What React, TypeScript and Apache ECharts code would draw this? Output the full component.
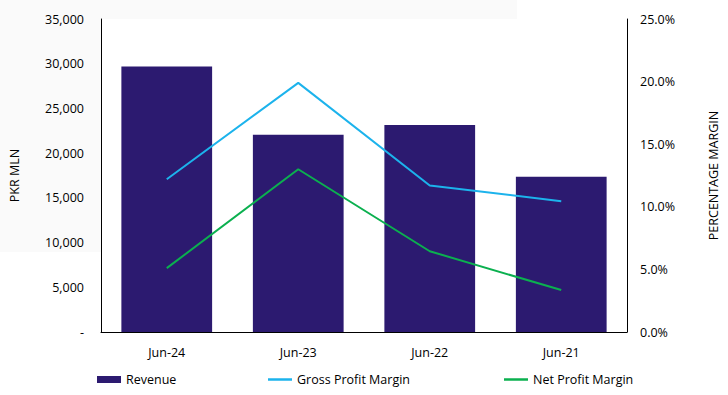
import React, { useEffect, useRef } from "react";
import * as echarts from "echarts";

const categories = ["Jun-24", "Jun-23", "Jun-22", "Jun-21"];
const revenue = [29700, 22050, 23150, 17350];
const grossMargin = [12.2, 19.9, 11.7, 10.45];
const netMargin = [5.1, 13.0, 6.45, 3.35];

const FONT = "'Open Sans', sans-serif";
const FS = 12.5;

export default function App() {
  const ref = useRef<HTMLDivElement>(null);
  useEffect(() => {
    if (!ref.current) return;
    const chart = echarts.init(ref.current, undefined, { renderer: "svg" });
    const legendText = { color: "#000", fontSize: FS, fontFamily: FONT };
    chart.setOption({
      animation: false,
      backgroundColor: "#fff",
      textStyle: { fontFamily: FONT },
      graphic: [
        { type: "rect", left: 0, top: 0, z: -10, shape: { width: 517, height: 252 }, style: { fill: "#fafafa" } },
      ],
      grid: { left: 95, right: 96, top: 19, bottom: 63, show: true, backgroundColor: "#fff", borderWidth: 0 },
      legend: [
        { data: ["Revenue"], left: 97, top: 373, itemWidth: 24, itemHeight: 7, icon: "rect", textStyle: legendText, padding: 0 },
        { data: ["Gross Profit Margin"], left: 268, top: 373, itemWidth: 24, itemHeight: 2.5, icon: "rect", textStyle: legendText, padding: 0 },
        { data: ["Net Profit Margin"], left: 504, top: 373, itemWidth: 24, itemHeight: 2.5, icon: "rect", textStyle: legendText, padding: 0 },
      ],
      xAxis: {
        type: "category",
        data: categories,
        axisLine: { lineStyle: { color: "#000", width: 1 } },
        axisTick: { show: false },
        axisLabel: { color: "#000", fontSize: FS, margin: 14, fontFamily: FONT },
      },
      yAxis: [
        {
          type: "value",
          min: 0,
          max: 35000,
          interval: 5000,
          name: "PKR MLN",
          nameLocation: "middle",
          nameGap: 80,
          nameTextStyle: { color: "#000", fontSize: FS, fontFamily: FONT },
          axisLine: { show: true, lineStyle: { color: "#000" } },
          axisTick: { show: false },
          splitLine: { show: false },
          axisLabel: {
            color: "#000",
            fontSize: FS,
            margin: 17,
            fontFamily: FONT,
            formatter: (v: number) => (v === 0 ? "-" : v.toLocaleString("en-US")),
          },
        },
        {
          type: "value",
          min: 0,
          max: 25,
          interval: 5,
          name: "PERCENTAGE MARGIN",
          nameLocation: "middle",
          nameGap: 80,
          nameRotate: 90,
          nameTextStyle: { color: "#000", fontSize: FS, fontFamily: FONT },
          axisLine: { show: true, lineStyle: { color: "#000" } },
          axisTick: { show: false },
          splitLine: { show: false },
          axisLabel: {
            color: "#000",
            fontSize: FS,
            margin: 13,
            fontFamily: FONT,
            formatter: (v: number) => v.toFixed(1) + "%",
          },
        },
      ],
      series: [
        {
          name: "Revenue",
          type: "bar",
          data: revenue,
          barWidth: "69%",
          itemStyle: { color: "#2c1a70" },
          yAxisIndex: 0,
        },
        {
          name: "Gross Profit Margin",
          type: "line",
          data: grossMargin,
          yAxisIndex: 1,
          symbol: "none",
          lineStyle: { color: "#1cb3ec", width: 2 },
          itemStyle: { color: "#1cb3ec" },
        },
        {
          name: "Net Profit Margin",
          type: "line",
          data: netMargin,
          yAxisIndex: 1,
          symbol: "none",
          lineStyle: { color: "#0bb04f", width: 2 },
          itemStyle: { color: "#0bb04f" },
        },
      ],
    });
    return () => chart.dispose();
  }, []);
  return <div ref={ref} style={{ width: 728, height: 395, position: "absolute", left: 0, top: 0 }} />;
}
